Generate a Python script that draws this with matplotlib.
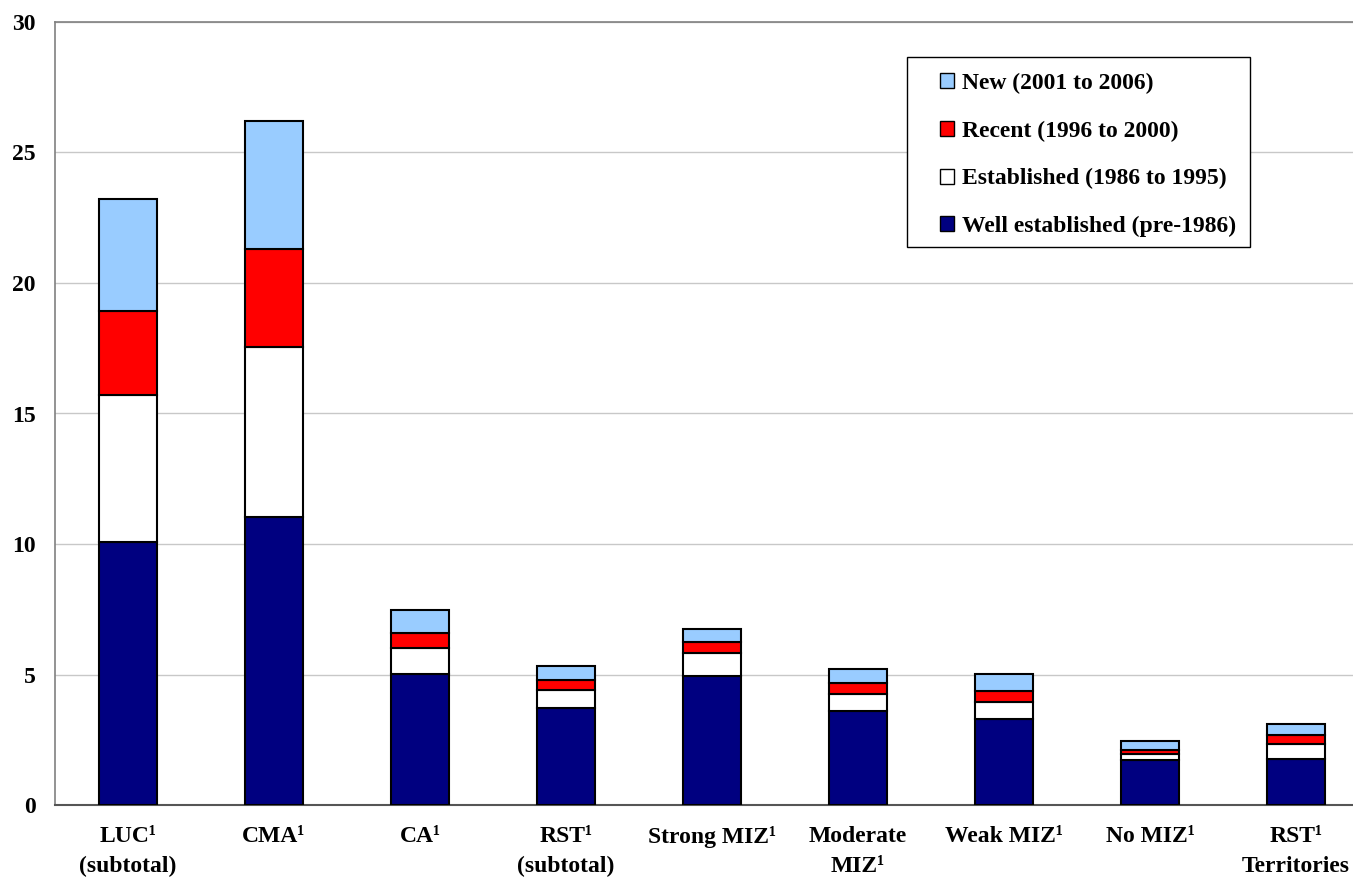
import numpy as np
import matplotlib.pyplot as plt
from matplotlib.patches import Patch, Rectangle

# settlement shares by period of immigration
categories = ["LUC\u00b9\n(subtotal)", "CMA\u00b9", "CA\u00b9", "RST\u00b9\n(subtotal)",
              "Strong MIZ\u00b9", "Moderate\nMIZ\u00b9", "Weak MIZ\u00b9", "No MIZ\u00b9",
              "RST\u00b9\nTerritories"]
well_established = [10.08, 11.03, 5.02, 3.72, 4.94, 3.60, 3.30, 1.72, 1.76]
established = [5.63, 6.52, 1.00, 0.69, 0.88, 0.65, 0.65, 0.23, 0.58]
recent = [3.22, 3.75, 0.57, 0.38, 0.43, 0.42, 0.42, 0.16, 0.34]
new = [4.29, 4.90, 0.88, 0.54, 0.49, 0.54, 0.65, 0.34, 0.42]

series = [
    ("Well established (pre-1986)", well_established, "#000080"),
    ("Established (1986 to 1995)", established, "#ffffff"),
    ("Recent (1996 to 2000)", recent, "#ff0000"),
    ("New (2001 to 2006)", new, "#99ccff"),
]

plt.rcParams["font.family"] = ["Liberation Serif", "DejaVu Serif"]
plt.rcParams["font.weight"] = "bold"
FS = 17

W, H = 1353, 880
fig = plt.figure(figsize=(W / 100, H / 100), dpi=100)
# axes slot runs a little past the right edge of the figure
ax = fig.add_axes([55 / W, 1 - 805 / H, 1314 / W, (805 - 22) / H])

x = np.arange(len(categories))
bottom = np.zeros(len(categories))
handles = []
for name, vals, col in series:
    ax.bar(x, vals, 0.4, bottom=bottom, color=col, edgecolor="black",
           linewidth=1.5, zorder=3)
    bottom += np.array(vals)
    handles.append(Patch(facecolor=col, edgecolor="black", linewidth=1, label=name))

ax.set_xlim(-0.5, len(categories) - 0.5)
ax.set_ylim(0, 30)
ax.set_yticks(range(0, 31, 5))
ax.yaxis.grid(True, color="#c8c8c8", linewidth=1, zorder=0)
ax.set_xticks(x)
ax.set_xticklabels(categories, fontsize=FS, fontweight="bold", linespacing=1.55)
ax.tick_params(axis="x", length=0, pad=15)
ax.tick_params(axis="y", length=0, pad=14, labelsize=FS)
for lbl in ax.get_yticklabels():
    lbl.set_fontweight("bold")

for s in ["left", "top", "right"]:
    ax.spines[s].set_color("#808080")
    ax.spines[s].set_linewidth(1.2)
ax.spines["bottom"].set_color("#555555")
ax.spines["bottom"].set_linewidth(1.5)

# legend box drawn separately so the entries can sit inset from its left edge
fig.patches.append(Rectangle((907 / W, 1 - 247 / H), (1250 - 907) / W, (247 - 57) / H,
                             transform=fig.transFigure, facecolor="white",
                             edgecolor="black", linewidth=1, zorder=4))
leg = fig.legend(handles=handles[::-1], loc="upper left",
                 bbox_to_anchor=(940 / W, 1 - 73 / H),
                 frameon=False, handlelength=0.6, handleheight=0.6,
                 handletextpad=0.35, labelspacing=1.12, borderpad=0,
                 borderaxespad=0, prop={"weight": "bold", "size": FS})
leg.set_zorder(5)

fig.savefig("out.png", dpi=100)
